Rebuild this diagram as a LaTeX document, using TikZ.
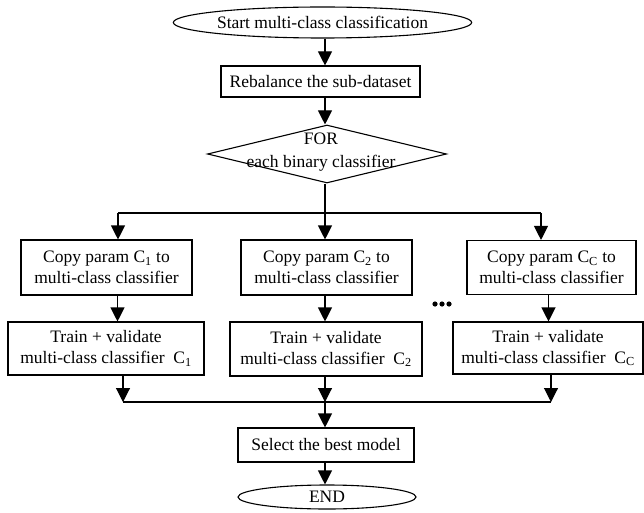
\documentclass[tikz,border=0pt]{standalone}
\usepackage{fontspec}
\setmainfont{Liberation Serif}
\usetikzlibrary{shapes.geometric,arrows.meta}
\tikzset{
  box/.style={draw, line width=1.1pt, inner sep=0pt, align=center, font=\fontsize{17.5}{21}\selectfont},
  term/.style={draw, ellipse, line width=1.1pt, inner sep=0pt, font=\fontsize{17.5}{21}\selectfont},
  lbl/.style={inner sep=0pt, align=center, font=\fontsize{17.5}{23}\selectfont},
  conn/.style={line width=1.1pt},
  arr/.style={line width=1.1pt, -{Triangle[width=14pt,length=14pt]}}
}
\begin{document}
\begin{tikzpicture}[x=1pt,y=-1pt]
\useasboundingbox (0,0) rectangle (644,513);
% nodes
\node[term, minimum width=275pt, minimum height=31pt] (start) at (322.5,22.5) {Start multi-class classification};
\node[box, minimum width=199pt, minimum height=31pt] (reb) at (320.5,81.5) {Rebalance the sub-dataset};
\node[draw, diamond, line width=1.1pt, inner sep=0pt, minimum width=239pt, minimum height=58pt] (dia) at (327,154) {};
\node[lbl] (dialbl) at (321,152) {FOR\\each binary classifier};
\node[box, minimum width=171pt, minimum height=55pt] (c1) at (106.5,267.5) {Copy param C\textsubscript{1} to\\multi-class classifier};
\node[box, minimum width=171pt, minimum height=55pt] (c2) at (326.5,267.5) {Copy param C\textsubscript{2} to\\multi-class classifier};
\node[box, minimum width=169pt, minimum height=54pt] (c3) at (551.5,267.5) {Copy param C\textsubscript{C} to\\multi-class classifier};
\node[box, minimum width=196pt, minimum height=53pt] (t1) at (106,348.5) {Train + validate\\multi-class classifier\enspace C\textsubscript{1}};
\node[box, minimum width=192pt, minimum height=54pt] (t2) at (326,349) {Train + validate\\multi-class classifier\enspace C\textsubscript{2}};
\node[box, minimum width=190pt, minimum height=52pt] (t3) at (548,348) {Train + validate\\multi-class classifier\enspace C\textsubscript{C}};
\node[box, minimum width=176pt, minimum height=34pt] (sel) at (326,445) {Select the best model};
\node[term, minimum width=178pt, minimum height=24pt] (end) at (327,497) {END};
% coordinates
\coordinate (s) at (325,213);
\coordinate (sl) at (118,213);
\coordinate (sr) at (541,213);
\coordinate (m) at (325,402);
\coordinate (ml) at (123,402);
\coordinate (mr) at (551,402);
% connectors
\draw[arr] (start.south -| s) -- (reb.north -| s);
\draw[arr] (reb.south -| s) -- (dia.north -| s);
\draw[conn] (dia.south -| s) -- (s);
\draw[conn] (sl) -- (sr);
\draw[arr] (sl) -- (sl |- c1.north);
\draw[arr] (s) -- (s |- c2.north);
\draw[arr] (sr) -- (sr |- c3.north);
\draw[arr] ([xshift=11pt]c1.south) -- ([xshift=11pt]c1.south |- t1.north);
\draw[arr] (c2.south -| s) -- (s |- t2.north);
\draw[arr] ([xshift=-3pt]c3.south) -- ([xshift=-3pt]c3.south |- t3.north);
\draw[arr] (t1.south -| ml) -- (ml);
\draw[arr] (t3.south -| mr) -- (mr);
\draw[conn] (ml) -- (mr);
\draw[arr] (t2.south -| m) -- (m);
\draw[arr] (m) -- (m |- sel.north);
\draw[arr] (sel.south -| m) -- (end.north -| m);
% dots
\fill (435,304) circle (2.6pt) (442,304) circle (2.6pt) (449,304) circle (2.6pt);
\end{tikzpicture}
\end{document}
